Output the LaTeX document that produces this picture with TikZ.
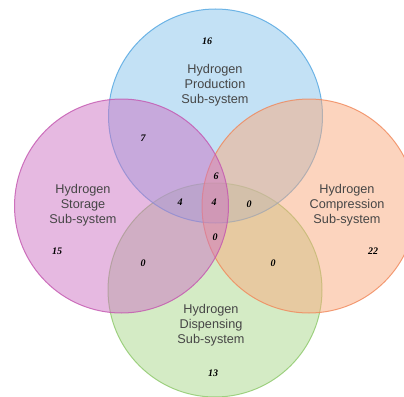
\documentclass[tikz,border=0pt]{standalone}
\usepackage{fontspec}
\setmainfont{Liberation Sans}
\newfontfamily\numfont{Liberation Serif}
\definecolor{cblue}{RGB}{135,195,235}
\definecolor{cblueL}{RGB}{80,165,225}
\definecolor{cpurp}{RGB}{205,115,195}
\definecolor{cpurpL}{RGB}{195,85,175}
\definecolor{corng}{RGB}{250,170,125}
\definecolor{corngL}{RGB}{240,135,90}
\definecolor{cgrn}{RGB}{170,215,140}
\definecolor{cgrnL}{RGB}{140,200,105}
\definecolor{txt}{RGB}{70,70,70}
\tikzset{
  setc/.style={circle, minimum size=214pt, inner sep=0pt, fill opacity=0.5, draw opacity=0.8, line width=1pt},
  lbl/.style={align=center, text=txt, font=\fontsize{12.7}{15}\selectfont},
  num/.style={text=black, font=\numfont\bfseries\itshape\fontsize{10}{11}\selectfont, inner sep=0pt}
}
\begin{document}
\begin{tikzpicture}[x=1pt,y=-1pt]
\useasboundingbox (0,0) rectangle (404,396);
\begin{scope}
\clip (0,0) rectangle (404,396);
\node[setc, fill=cgrn, draw=cgrnL] (cd) at (215,290) {};
\node[setc, fill=cblue, draw=cblueL] (cp) at (215.5,116) {};
\node[setc, fill=corng, draw=corngL] (cc) at (309,206) {};
\node[setc, fill=cpurp, draw=cpurpL] (cs) at (121.5,206) {};
\end{scope}
\node[lbl] (lp) at (215,85) {Hydrogen\\Production\\Sub-system};
\node[lbl] (ls) at (83,205) {Hydrogen\\Storage\\Sub-system};
\node[lbl] (lc) at (347,205) {Hydrogen\\Compression\\Sub-system};
\node[lbl] (ld) at (211,325) {Hydrogen\\Dispensing\\Sub-system};
\node[num] (n16) at (207,41) {16};
\node[num] (n7) at (143,138) {7};
\node[num] (n6) at (216,176) {6};
\node[num] (n4a) at (180,202) {4};
\node[num] (n4b) at (214,202) {4};
\node[num] (n0a) at (249,204) {0};
\node[num] (n0b) at (215,237) {0};
\node[num] (n15) at (57,251) {15};
\node[num] (n0c) at (143,263) {0};
\node[num] (n0d) at (273,263) {0};
\node[num] (n22) at (373,251) {22};
\node[num] (n13) at (213,373) {13};
\end{tikzpicture}
\end{document}
